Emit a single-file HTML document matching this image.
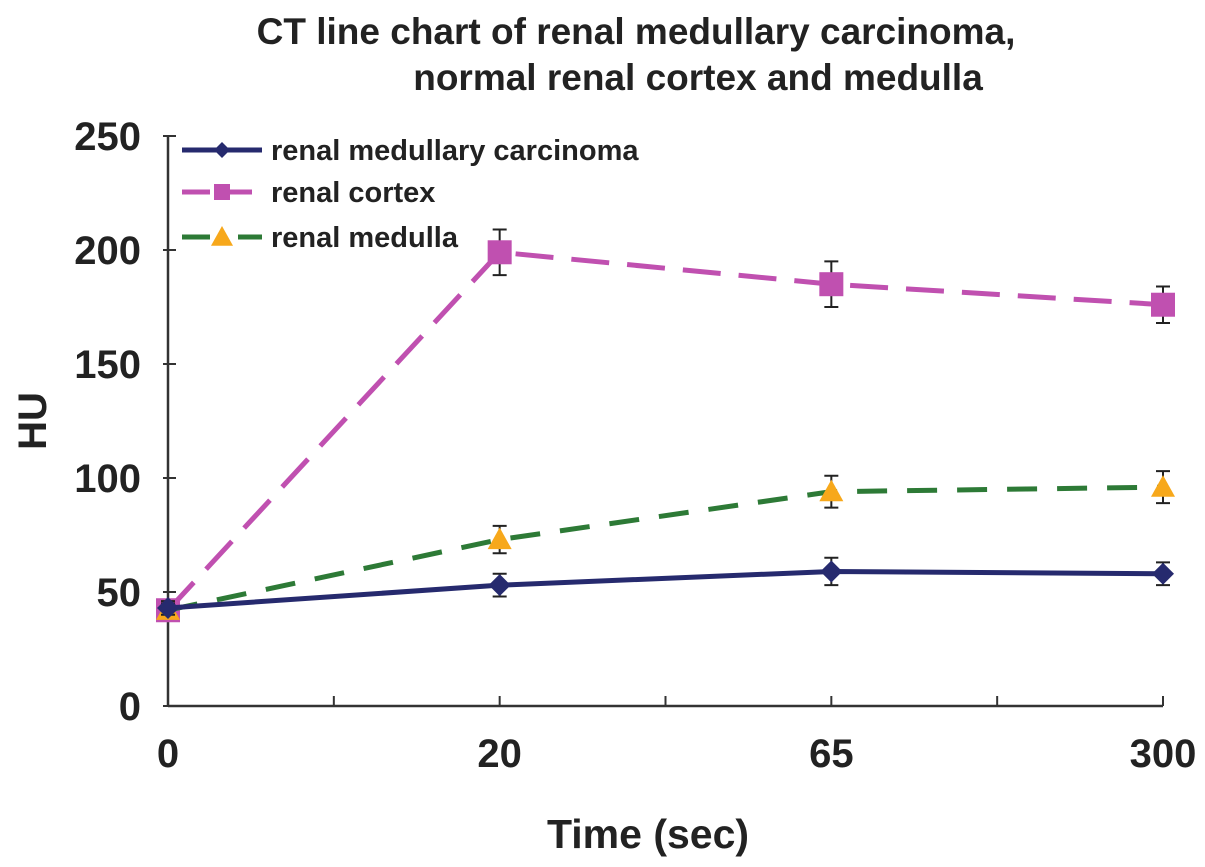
<!DOCTYPE html>
<html><head><meta charset="utf-8"><style>
body{margin:0;background:#fff;}
svg{display:block;font-family:"Liberation Sans",Arial,sans-serif;font-weight:bold;}
</style></head><body>
<svg id="chart" width="1205" height="867" viewBox="0 0 1205 867">
<text x="636" y="44" text-anchor="middle" font-size="37" fill="#222">CT line chart of renal medullary carcinoma,</text>
<text x="698" y="90" text-anchor="middle" font-size="37" fill="#222">normal renal cortex and medulla</text>
<text transform="translate(46,421) rotate(-90)" text-anchor="middle" font-size="40" fill="#222">HU</text>
<text x="648" y="848" text-anchor="middle" font-size="41" fill="#222">Time (sec)</text>
<g id="axes"></g>
<g id="series"></g>
<g id="legend"></g>
</svg>
<script>
const categories = ["0","20","65","300"];
const yTicks = [0,50,100,150,200,250];
const carcinoma = [43,53,59,58];
const carcinomaErr = [3,5,6,5];
const cortex = [42,199,185,176];
const cortexErr = [3,10,10,8];
const medulla = [42,73,94,96];
const medullaErr = [3,6,7,7];

const NS="http://www.w3.org/2000/svg";
const X0=168, X1=1163, Y0=706, Y1=136, YMAX=250;
function xs(i){return X0+(X1-X0)*i/(categories.length-1);}
function ys(v){return Y0-(Y0-Y1)*v/YMAX;}
function mk(tag,attrs,parent){const e=document.createElementNS(NS,tag);for(const k in attrs)e.setAttribute(k,attrs[k]);parent.appendChild(e);return e;}
const axes=document.getElementById('axes'), ser=document.getElementById('series'), leg=document.getElementById('legend');

let a=mk('line',{x1:X0,y1:Y1,x2:X0,y2:Y0,stroke:'#333','stroke-width':2.5},axes);


a=mk('line',{x1:X0,y1:Y0,x2:X1,y2:Y0,stroke:'#333','stroke-width':2.5},axes);


yTicks.forEach(v=>{
  let t=mk('line',{x1:X0-5,y1:ys(v),x2:X0+8,y2:ys(v),stroke:'#333','stroke-width':2},axes);
  
  
  let l=mk('text',{x:141,y:ys(v)+14,'text-anchor':'end','font-size':40,fill:'#222'},axes);
  l.textContent=v;
  
  
});
for(let i=0;i<categories.length*2-1;i++){
  const x=X0+(X1-X0)*i/(2*(categories.length-1));
  let t=mk('line',{x1:x,y1:Y0,x2:x,y2:Y0-10,stroke:'#333','stroke-width':2},axes);
  
  
}
categories.forEach((c,i)=>{
  let l=mk('text',{x:xs(i),y:767,'text-anchor':'middle','font-size':40,fill:'#222'},axes);
  l.textContent=c;
  
  
});

function marker(type,x,y,color,g,s){
  let m;
  if(type==='diamond') m=mk('polygon',{points:`${x},${y-s} ${x+s},${y} ${x},${y+s} ${x-s},${y}`,fill:color},g);
  else if(type==='square') m=mk('rect',{x:x-s,y:y-s,width:2*s,height:2*s,fill:color},g);
  else m=mk('polygon',{points:`${x},${y-s} ${x+s},${y+s*0.8} ${x-s},${y+s*0.8}`,fill:color},g);
  return m;
}
function drawSeries(name,vals,errs,color,dash,type,size){
  const g=mk('g',{},ser);
  
  
  const pts=vals.map((v,i)=>xs(i)+','+ys(v)).join(' ');
  let p=mk('polyline',{points:pts,fill:'none',stroke:color,'stroke-width':5,'stroke-dasharray':dash},g);
  
  
  vals.forEach((v,i)=>{
    const x=xs(i);
    let e=mk('path',{d:`M${x},${ys(v+errs[i])}V${ys(v-errs[i])}M${x-7},${ys(v+errs[i])}H${x+7}M${x-7},${ys(v-errs[i])}H${x+7}`,stroke:'#222','stroke-width':2,fill:'none'},g);
    
    
    let m=marker(type,x,ys(v),type==='triangle'?'#f7a81b':color,g,size);
    
    
  });
}
drawSeries('cortex',cortex,cortexErr,'#c050b0','38 18','square',12);
drawSeries('medulla',medulla,medullaErr,'#2d7a36','30 20','triangle',12);
drawSeries('carcinoma',carcinoma,carcinomaErr,'#262a6e','','diamond',11);

const legendItems=[['renal medullary carcinoma','#262a6e','diamond',150,''],['renal cortex','#c050b0','square',192,'28 14'],['renal medulla','#2d7a36','triangle',237,'28 28']];
legendItems.forEach(it=>{
  const g=mk('g',{},leg);
  
  
  let l=mk('line',{x1:182,y1:it[3],x2:262,y2:it[3],stroke:it[1],'stroke-width':5,'stroke-dasharray':it[4]},g);
  
  
  let m=marker(it[2],222,it[3],it[2]==='triangle'?'#f7a81b':it[1],g,it[2]==='triangle'?11:8);
  
  
  let t=mk('text',{x:271,y:it[3]+10,'font-size':29,fill:'#222'},g);
  t.textContent=it[0];
  
  
});
</script>
</body></html>
